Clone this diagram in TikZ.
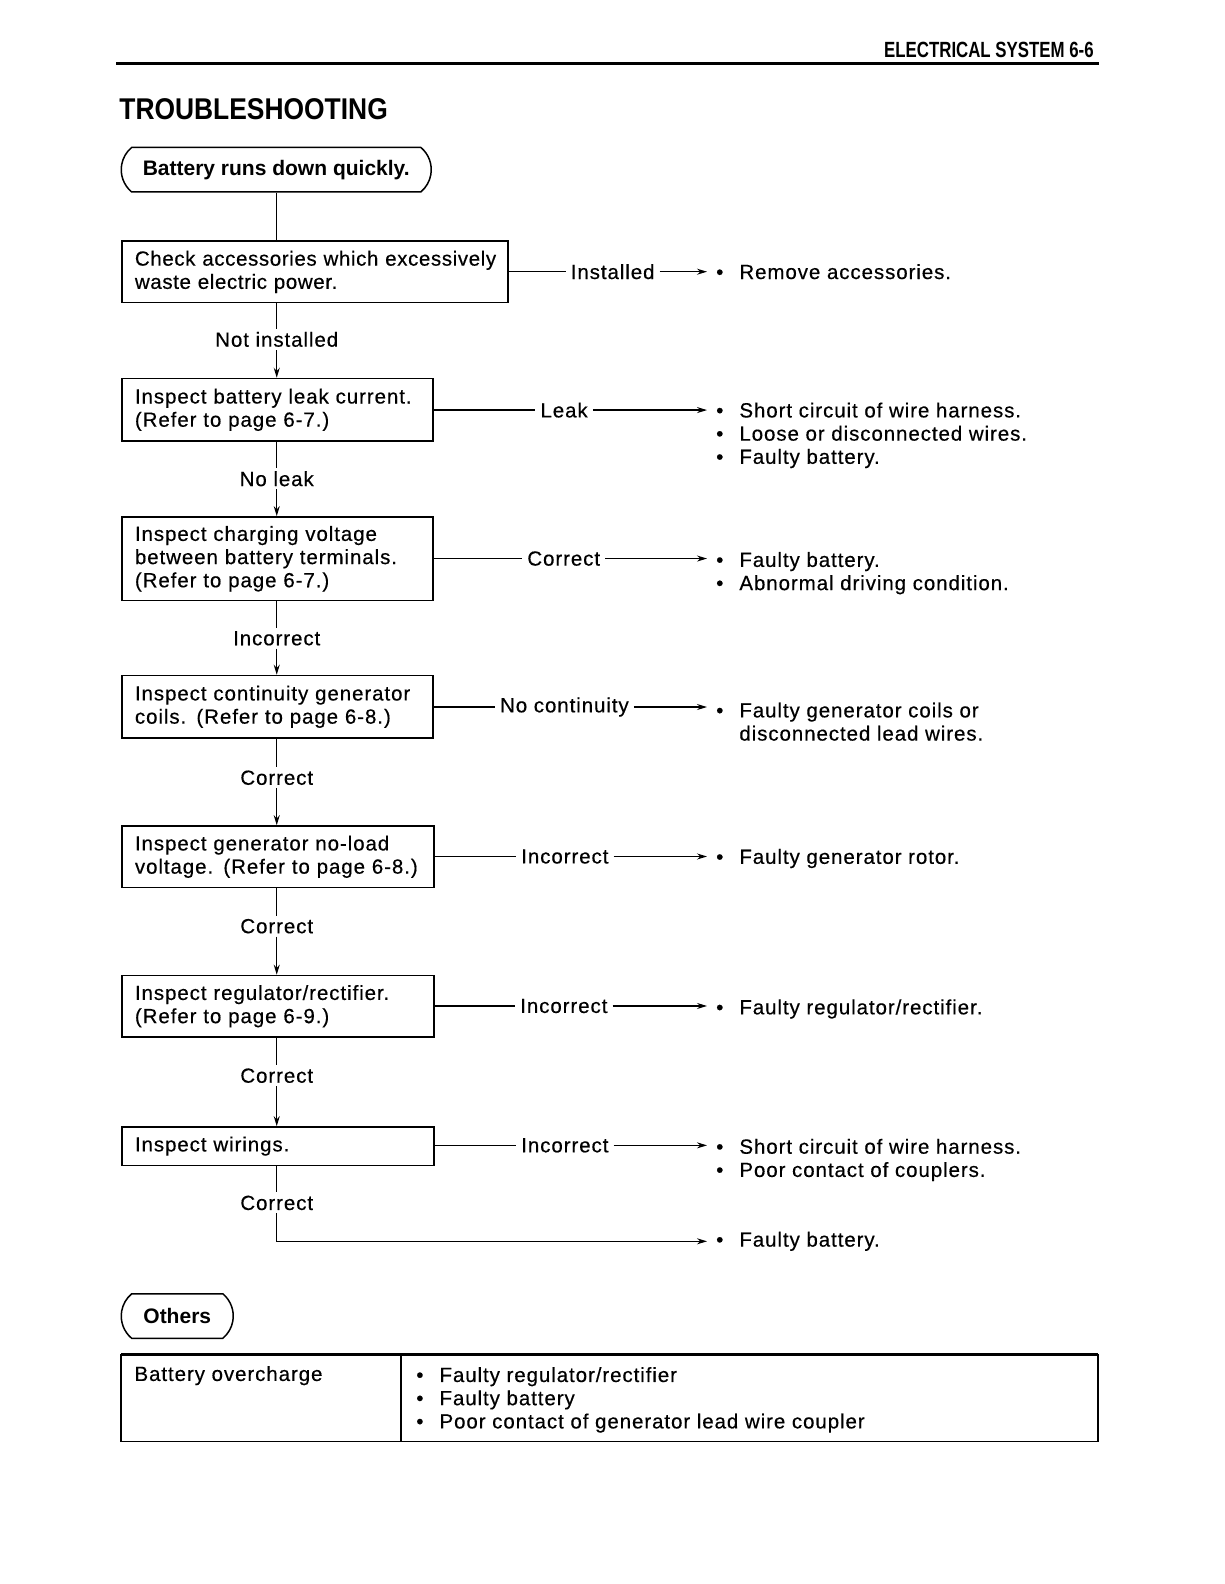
\documentclass[tikz,border=0pt]{standalone}
\usepackage{fontspec}
\setmainfont{Liberation Sans}[LetterSpace=4.5,FakeBold=0.4]
\newfontfamily\plainfam{Liberation Sans}
\newfontfamily\tightfam{Liberation Sans}[LetterSpace=3,FakeBold=0.4]
\usetikzlibrary{shapes.misc,arrows.meta}
\newcommand\fsz{\fontsize{20.5}{23.2}\selectfont}
\newcommand\bul{\makebox[23.2pt][l]{\textbullet}}
\newcommand\bulsp{\makebox[23.2pt][l]{}}
\begin{document}
\begin{tikzpicture}[x=1.01pt,y=-1.01pt,
  every node/.style={inner sep=0pt, font=\fsz},
  stepbox/.style={draw, line width=1.5pt, anchor=north west, inner xsep=13pt, inner ysep=0pt, align=left},
  term/.style={draw, line width=1.5pt, rounded rectangle, rounded rectangle arc length=100, font=\fontsize{21}{23}\selectfont\plainfam\bfseries},
  lab/.style={inner xsep=5pt, inner ysep=3pt},
  res/.style={anchor=west, align=left, inner xsep=9pt},
  ln/.style={line width=1.2pt},
  arr/.style={ln, -{Stealth[length=10pt,width=6pt]}}]

\useasboundingbox[fill=white] (0,0) rectangle (1211.9,1568.3);

% header
\node[anchor=east, font=\fontsize{22}{24}\selectfont\plainfam\bfseries] (hdr) at (1083,49) {\scalebox{0.765}[1]{ELECTRICAL SYSTEM 6-6}};
\draw[line width=3pt] (115,62.5) -- (1088,62.5);
\node[anchor=west, font=\fontsize{30}{32}\selectfont\plainfam\bfseries] (title) at (118,108) {\scalebox{0.88}[1]{TROUBLESHOOTING}};

% start
\node[term, minimum width=310pt, minimum height=44.4pt] (s) at (273.5,168) {Battery runs down quickly.};

% boxes
\node[stepbox, text width=360pt, minimum height=61.6pt, font=\fsz\tightfam] (b1) at (120,238) {\mbox{Check accessories which excessively}\\\mbox{waste electric power.}};
\node[stepbox, text width=285pt, minimum height=62.6pt] (b2) at (120,374) {Inspect battery leak current.\\(Refer to page 6-7.)};
\node[stepbox, text width=285pt, minimum height=83.8pt] (b3) at (120,511) {Inspect charging voltage\\between battery terminals.\\(Refer to page 6-7.)};
\node[stepbox, text width=285pt, minimum height=62.6pt] (b4) at (120,668) {Inspect continuity generator\\coils. (Refer to page 6-8.)};
\node[stepbox, text width=286pt, minimum height=61.6pt] (b5) at (120,817) {Inspect generator no-load\\voltage. (Refer to page 6-8.)};
\node[stepbox, text width=286pt, minimum height=61.6pt] (b6) at (120,965) {Inspect regulator/rectifier.\\(Refer to page 6-9.)};
\node[stepbox, text width=286pt, minimum height=38.4pt] (b7) at (120,1115) {Inspect wirings.};

% down labels
\node[lab] (n1) at (274,336) {Not installed};
\node[lab] (n2) at (274,474) {No leak};
\node[lab] (n3) at (274,632) {Incorrect};
\node[lab] (n4) at (274,770) {Correct};
\node[lab] (n5) at (274,917) {Correct};
\node[lab] (n6) at (274,1065) {Correct};
\node[lab] (n7) at (274,1191) {Correct};

\draw[ln] (s.south) -- (s.south |- b1.north);
\draw[ln] (b1.south -| n1) -- (n1.north);
\draw[arr] (n1.south) -- (n1.south |- b2.north);
\draw[ln] (b2.south -| n2) -- (n2.north);
\draw[arr] (n2.south) -- (n2.south |- b3.north);
\draw[ln] (b3.south -| n3) -- (n3.north);
\draw[arr] (n3.south) -- (n3.south |- b4.north);
\draw[ln] (b4.south -| n4) -- (n4.north);
\draw[arr] (n4.south) -- (n4.south |- b5.north);
\draw[ln] (b5.south -| n5) -- (n5.north);
\draw[arr] (n5.south) -- (n5.south |- b6.north);
\draw[ln] (b6.south -| n6) -- (n6.north);
\draw[arr] (n6.south) -- (n6.south |- b7.north);
\draw[ln] (b7.south -| n7) -- (n7.north);

% right labels
\node[lab, anchor=west] (l1) at (560,269) {Installed};
\node[lab, anchor=west] (l2) at (530,406) {Leak};
\node[lab, anchor=west] (l3) at (517,553) {Correct};
\node[lab, anchor=west] (l4) at (490,700) {No continuity};
\node[lab, anchor=west] (l5) at (511,848) {Incorrect};
\node[lab, anchor=west] (l6) at (510,996) {Incorrect};
\node[lab, anchor=west] (l7) at (511,1134) {Incorrect};

% results
\node[res] (r1) at (700,269) {\bul Remove accessories.};
\node[res] (r2) at (700,431) {\bul Short circuit of wire harness.\\\bul Loose or disconnected wires.\\\bul Faulty battery.};
\node[res] (r3) at (700,567.5) {\bul Faulty battery.\\\bul Abnormal driving condition.};
\node[res] (r4) at (700,714.5) {\bul Faulty generator coils or\\\bulsp disconnected lead wires.};
\node[res] (r5) at (700,850) {\bul Faulty generator rotor.};
\node[res] (r6) at (700,999) {\bul Faulty regulator/rectifier.};
\node[res] (r7) at (700,1148.5) {\bul Short circuit of wire harness.\\\bul Poor contact of couplers.};
\node[res] (r8) at (700,1229) {\bul Faulty battery.};

\foreach \i in {1,...,7}{
  \draw[ln] (b\i.east |- l\i.west) -- (l\i.west);
  \draw[arr] (l\i.east) -- (l\i.east -| r\i.west);
}
\draw[arr] (n7.south) |- (r8.west);

% others
\node[term, minimum width=112pt, minimum height=44.4pt] (oth) at (175.5,1303) {Others};

% table
\draw[line width=1.5pt] (120,1341) rectangle (1087,1427);
\draw[line width=2.5pt] (120,1341) -- (1087,1341);
\draw[line width=1.5pt] (397,1341) -- (397,1427);
\node[anchor=west] (t1) at (133,1362) {Battery overcharge};
\node[anchor=west, align=left] (t2) at (412,1386) {\bul Faulty regulator/rectifier\\\bul Faulty battery\\\bul Poor contact of generator lead wire coupler};
\end{tikzpicture}
\end{document}
